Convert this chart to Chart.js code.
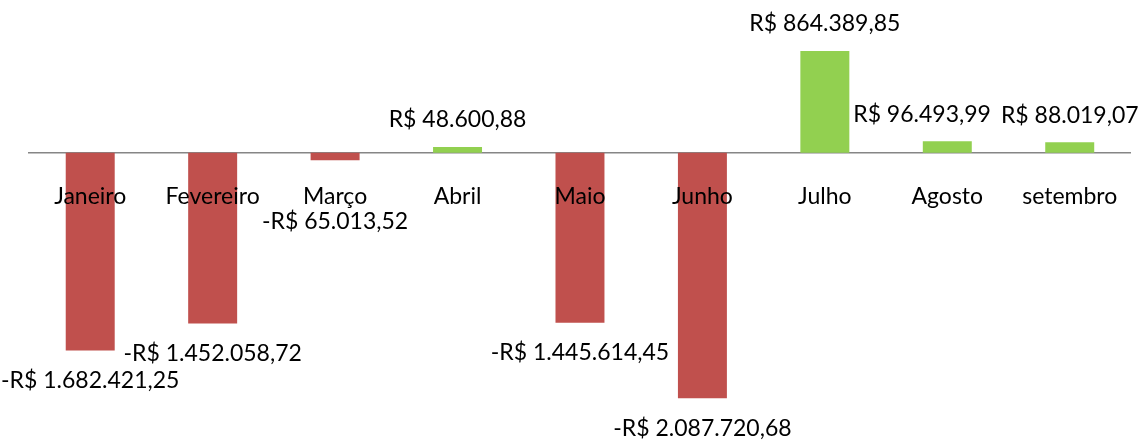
<!DOCTYPE html>
<html>
<head>
<meta charset="utf-8">
<script src="https://cdn.jsdelivr.net/npm/chart.js@4"></script>
<style>
  html, body { margin: 0; padding: 0; background: #fff; }
  #wrap { width: 1148px; height: 441px; }
</style>
</head>
<body>
<div id="wrap"><canvas id="saldo"></canvas></div>
<script>
// meses e saldo mensal (R$)
const meses = ['Janeiro', 'Fevereiro', 'Março', 'Abril', 'Maio', 'Junho', 'Julho', 'Agosto', 'setembro'];
const saldo = [-1682421.25, -1452058.72, -65013.52, 48600.88, -1445614.45, -2087720.68, 864389.85, 96493.99, 88019.07];

const corNeg = '#C0504D';
const corPos = '#92D050';
const fonte = 'Lato, "Liberation Sans", sans-serif';

function moeda(v) {
    let s = Math.abs(v).toLocaleString('pt-BR', {minimumFractionDigits: 2, maximumFractionDigits: 2});
    return (v < 0 ? '-' : '') + 'R$ ' + s;
}

// rótulos de dados estilo Excel (fora da ponta da barra)
const rotulos = {
    id: 'rotulos',
    afterDatasetsDraw(chart) {
        const ctx = chart.ctx;
        const meta = chart.getDatasetMeta(0);
        const zeroY = chart.scales.y.getPixelForValue(0);
        ctx.save();
        ctx.font = '23px ' + fonte;
        ctx.fillStyle = '#000';
        ctx.textAlign = 'center';
        ctx.textBaseline = 'middle';
        let itens = meta.data.map(function(bar, i) {
            let v = saldo[i];
            let y = v < 0 ? Math.max(bar.y + 30, zeroY + 69) : bar.y - 27;
            let txt = moeda(v);
            return {x: bar.x, y: y, txt: txt, w: ctx.measureText(txt).width};
        });
        // afasta rótulos que se sobrepõem
        for (let i = itens.length - 2; i >= 0; i--) {
            let a = itens[i], b = itens[i + 1];
            if (Math.abs(a.y - b.y) < 22) {
                let over = (a.x + a.w / 2) - (b.x - b.w / 2);
                if (over > 0) a.x -= over + 10;
            }
        }
        itens.forEach(function(it) { ctx.fillText(it.txt, it.x, it.y); });
        ctx.restore();
    }
};

new Chart(document.getElementById('saldo'), {
    type: 'bar',
    data: {
        labels: meses,
        datasets: [{
            data: saldo,
            backgroundColor: saldo.map(v => v < 0 ? corNeg : corPos),
            borderWidth: 0,
            barPercentage: 0.4,
            categoryPercentage: 1
        }]
    },
    options: {
        responsive: true,
        maintainAspectRatio: false,
        animation: false,
        layout: { padding: { top: 35, bottom: 6, left: 29, right: 13 } },
        plugins: {
            legend: { display: false },
            tooltip: { enabled: false }
        },
        scales: {
            x: {
                position: { y: 0 },
                grid: { display: false, drawTicks: false },
                border: { display: true, color: '#868686', width: 1.5 },
                ticks: {
                    z: 1,   // nomes dos meses por cima das barras
                    color: '#000',
                    font: { family: fonte, size: 23 },
                    padding: 30,
                    maxRotation: 0,
                    autoSkip: false
                }
            },
            y: {
                display: false,
                min: -2400000,
                max: 1000000
            }
        }
    },
    plugins: [rotulos]
});
</script>
</body>
</html>
